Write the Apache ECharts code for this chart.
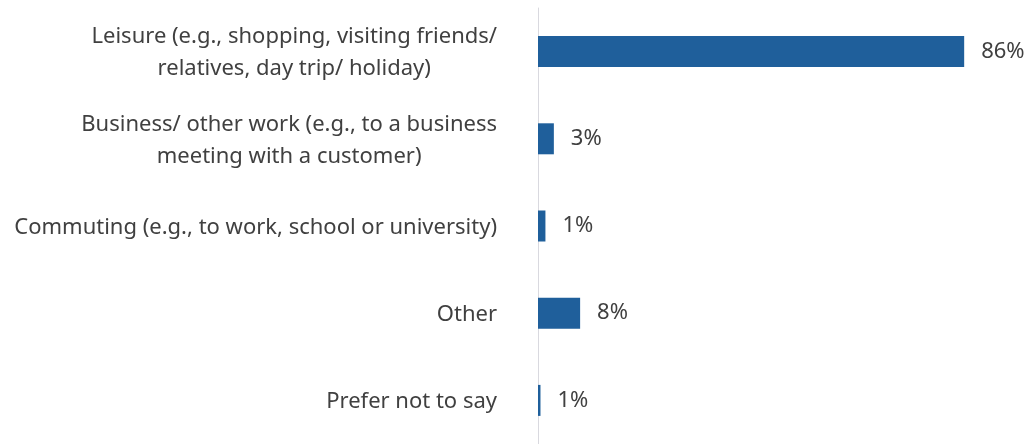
<!DOCTYPE html>
<html>
<head>
<meta charset="utf-8">
<script src="https://cdn.jsdelivr.net/npm/echarts@6/dist/echarts.min.js"></script>
<style>html,body{margin:0;padding:0;background:#fff}#chart{width:1029px;height:444px}</style>
</head>
<body>
<div id="chart"></div>
<script>
const categories = [
  "Leisure (e.g., shopping, visiting friends/\nrelatives, day trip/ holiday)",
  "Business/ other work (e.g., to a business\nmeeting with a customer)",
  "Commuting (e.g., to work, school or university)",
  "Other",
  "Prefer not to say"
];
const values = [86, 3.2, 1.5, 8.5, 0.5];
const valueLabels = ["86%", "3%", "1%", "8%", "1%"];

const chart = echarts.init(document.getElementById('chart'), null, {renderer: 'canvas'});
const FONT = 'Noto Sans';
const FS = 22;
chart.setOption({
  animation: false,
  grid: {left: 538, right: 45, top: 8, bottom: -4, containLabel: false},
  xAxis: {type: 'value', min: 0, max: 90, show: false, splitLine: {show: false}},
  yAxis: {
    type: 'category',
    inverse: true,
    data: categories,
    axisLine: {show: true, lineStyle: {color: '#d9d9df', width: 1}},
    axisTick: {show: false},
    axisLabel: {
      margin: 41,
      align: 'right',
      color: '#404040',
      fontFamily: FONT,
      fontSize: FS,
      lineHeight: 32,
      formatter: function (v) {
        return v.split('\n').map(function (l) { return '{c|' + l + '}'; }).join('\n');
      },
      rich: {c: {align: 'center', color: '#404040', fontFamily: FONT, fontSize: FS, lineHeight: 32, padding: [3, 0, 0, 0]}}
    }
  },
  series: [{
    type: 'bar',
    data: values,
    barWidth: 31,
    itemStyle: {color: '#1f5f9b'},
    label: {
      show: true,
      position: 'right',
      distance: 17,
      color: '#404040',
      fontFamily: FONT,
      fontSize: FS,
      formatter: function (p) { return valueLabels[p.dataIndex]; }
    }
  }]
});
</script>
</body>
</html>
